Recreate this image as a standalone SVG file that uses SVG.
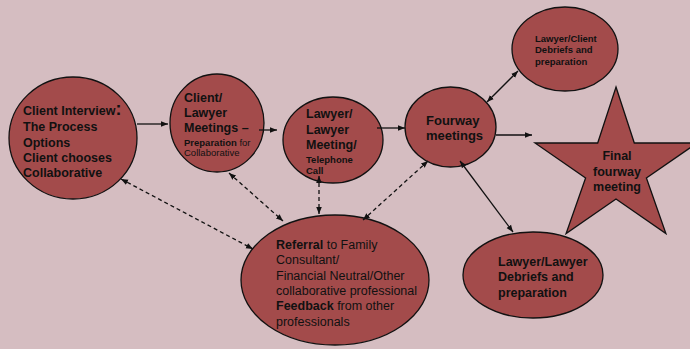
<svg xmlns="http://www.w3.org/2000/svg" width="690" height="349" viewBox="0 0 690 349">
<defs>
<style>
.node{fill:#a34b4b;stroke:#111;stroke-width:1.3}
text{font-family:"Liberation Sans",Arial,sans-serif;fill:#111}
.b{font-weight:bold}
.t{font-size:12.5px}
.s{font-size:9.5px}
.c{stroke:#111;stroke-width:1.3;fill:none}
.d{stroke-dasharray:4,3}
</style>
<marker id="ah" viewBox="0 0 10 10" refX="10" refY="5" markerWidth="7" markerHeight="7" orient="auto-start-reverse" markerUnits="userSpaceOnUse">
<path d="M0,1 L10,5 L0,9 z" fill="#111"/>
</marker>
</defs>
<rect width="690" height="349" fill="#d5bdc1"/>
<g id="client-interview">
<ellipse class="node" cx="73" cy="138" rx="64" ry="61"/>
<text class="b t" x="23"><tspan x="23" y="115">Client Interview<tspan font-size="18px">:</tspan></tspan><tspan x="23" y="131">The Process</tspan><tspan x="23" y="147">Options</tspan><tspan x="23" y="162">Client chooses</tspan><tspan x="23" y="177">Collaborative</tspan></text>
</g>
<g id="client-lawyer-meetings">
<ellipse class="node" cx="217" cy="123" rx="47" ry="49"/>
<text class="b t"><tspan x="184" y="102">Client/</tspan><tspan x="184" y="117">Lawyer</tspan><tspan x="184" y="132">Meetings –</tspan></text>
<text class="s"><tspan x="184" y="145.5" font-weight="bold">Preparation</tspan><tspan> for</tspan><tspan x="184" y="155.5">Collaborative</tspan></text>
</g>
<g id="lawyer-lawyer-meeting">
<ellipse class="node" cx="333" cy="140" rx="50" ry="43"/>
<text class="b t"><tspan x="306" y="118">Lawyer/</tspan><tspan x="306" y="134">Lawyer</tspan><tspan x="306" y="149">Meeting/</tspan></text>
<text class="b s"><tspan x="306" y="162.5">Telephone</tspan><tspan x="306" y="174">Call</tspan></text>
</g>
<g id="fourway-meetings">
<ellipse class="node" cx="450.5" cy="127" rx="45.5" ry="40"/>
<text class="b" font-size="13px"><tspan x="426" y="125">Fourway</tspan><tspan x="426" y="139.5">meetings</tspan></text>
</g>
<g id="lawyer-client-debriefs">
<ellipse class="node" cx="565" cy="49" rx="53" ry="42"/>
<text class="b s"><tspan x="535" y="41.5">Lawyer/Client</tspan><tspan x="535" y="53">Debriefs and</tspan><tspan x="535" y="64.5">preparation</tspan></text>
</g>
<g id="final-fourway-meeting">
<polygon class="node" points="616,87 634.3,143 697,143 646.4,178 665.9,233.5 616,199 566.1,233.5 585.6,178 535,143 597.7,143"/>
<text class="b t" text-anchor="middle"><tspan x="617" y="160">Final</tspan><tspan x="617" y="176">fourway</tspan><tspan x="617" y="191">meeting</tspan></text>
</g>
<g id="referral">
<ellipse class="node" cx="335" cy="280" rx="94" ry="65"/>
<text class="t"><tspan x="276" y="248.5" font-weight="bold">Referral</tspan><tspan> to Family</tspan><tspan x="276" y="264">Consultant/</tspan><tspan x="276" y="279.5">Financial Neutral/Other</tspan><tspan x="276" y="295">collaborative professional</tspan><tspan x="276" y="310" font-weight="bold">Feedback</tspan><tspan> from other</tspan><tspan x="276" y="325.5">professionals</tspan></text>
</g>
<g id="lawyer-lawyer-debriefs">
<ellipse class="node" cx="533" cy="275" rx="70" ry="43"/>
<text class="b t"><tspan x="498" y="265.5">Lawyer/Lawyer</tspan><tspan x="498" y="281">Debriefs and</tspan><tspan x="498" y="296.5">preparation</tspan></text>
</g>
<g id="connectors">
<line class="c" x1="137" y1="124" x2="168" y2="124" marker-end="url(#ah)"/>
<line class="c" x1="259" y1="130" x2="277" y2="130" marker-end="url(#ah)"/>
<line class="c" x1="377" y1="128" x2="405" y2="128" marker-end="url(#ah)"/>
<line class="c" x1="496" y1="135" x2="532" y2="135" marker-end="url(#ah)"/>
<line class="c" x1="487" y1="102" x2="518" y2="71" marker-start="url(#ah)" marker-end="url(#ah)"/>
<line class="c" x1="460" y1="161" x2="513" y2="232" marker-start="url(#ah)" marker-end="url(#ah)"/>
<line class="c d" x1="121" y1="179" x2="253" y2="249" marker-start="url(#ah)" marker-end="url(#ah)"/>
<line class="c d" x1="229" y1="173" x2="283" y2="221" marker-start="url(#ah)" marker-end="url(#ah)"/>
<line class="c d" x1="319" y1="176" x2="319" y2="214" marker-start="url(#ah)" marker-end="url(#ah)"/>
<line class="c d" x1="428" y1="161" x2="363" y2="220" marker-start="url(#ah)" marker-end="url(#ah)"/>
</g>
</svg>
